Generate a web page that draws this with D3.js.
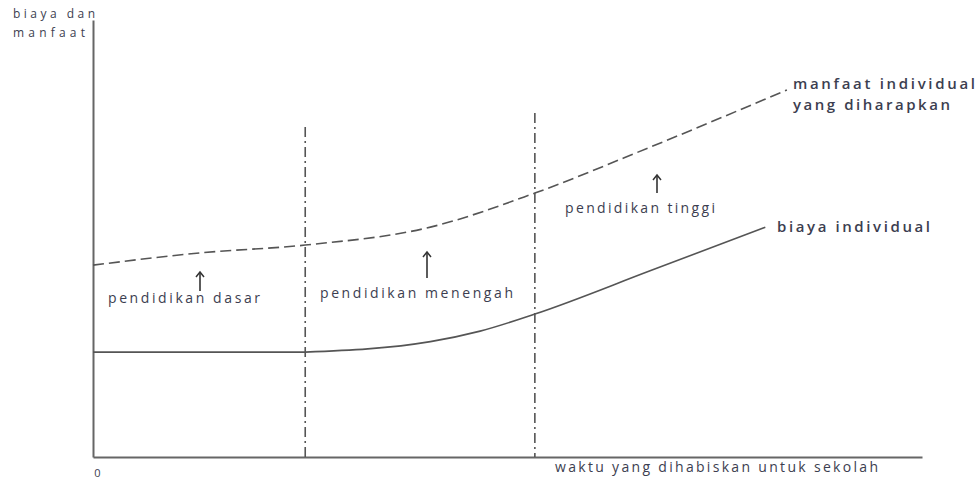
<!DOCTYPE html>
<html>
<head>
<meta charset="utf-8">
<script src="https://cdn.jsdelivr.net/npm/d3@7"></script>
<style>
  body { margin: 0; background: #fff; }
  text { font-family: "Open Sans", sans-serif; fill: #3c3e50; }
</style>
</head>
<body>
<div id="chart-area"></div>
<script>
// schematic values (time at school vs cost / benefit, arbitrary units 0-100)
const benefitX = [0, 12.9, 25.6, 40.7, 53.3, 67.2, 83.7]
const benefitY = [43.9, 46.7, 48.5, 52.6, 60.4, 70.9, 84.0]
const costX = [0, 25.6, 40.7, 46.7, 53.3, 67.2, 81.1]
const costY = [24, 24, 26.4, 28.8, 32.7, 42.6, 52.6]
const boundaries = [25.6, 53.3]
const boundaryTops = [75.5, 78.7]
const stageNames = ["pendidikan dasar", "pendidikan menengah", "pendidikan tinggi"]
const seriesNames = [["manfaat individual", "yang diharapkan"], ["biaya individual"]]
const yTitle = ["biaya dan", "manfaat"]
const xTitle = "waktu yang dihabiskan untuk sekolah"
const xTickLabels = ["0"]

const WIDTH = 976
const HEIGHT = 479

const svg = d3.select("#chart-area").append("svg")
  .attr("width", WIDTH)
  .attr("height", HEIGHT)

// scales
const x = d3.scaleLinear().domain([0, 100]).range([93, 922])
const y = d3.scaleLinear().domain([0, 100]).range([457, 20])

// axes
const xAxis = svg.append("g")
  .attr("transform", `translate(0, ${y(0)})`)
  .call(d3.axisBottom(x).tickValues([0]).tickSize(0).tickSizeOuter(0)
    .tickFormat((d, i) => xTickLabels[i]))
xAxis.select(".domain").attr("stroke", "#666").attr("stroke-width", 2)
xAxis.selectAll(".tick text")
  .attr("dy", 0).attr("y", 20).attr("x", 4)
  .style("font-size", "11px").style("font-family", "Open Sans")

const yAxis = svg.append("g")
  .attr("transform", `translate(${x(0)}, 0)`)
  .call(d3.axisLeft(y).tickValues([]).tickSizeOuter(0))
yAxis.select(".domain").attr("stroke", "#666").attr("stroke-width", 2)

// stage boundaries
svg.selectAll(".boundary")
  .data(boundaries)
  .enter().append("line")
  .attr("class", "boundary")
  .attr("x1", d => x(d)).attr("x2", d => x(d))
  .attr("y1", (d, i) => y(boundaryTops[i])).attr("y2", y(0))
  .attr("stroke", "#555")
  .attr("stroke-width", 1.6)
  .attr("stroke-dasharray", "10,4,2,4")

// line generators
const curve = d3.line()
  .x(d => x(d[0]))
  .y(d => y(d[1]))
  .curve(d3.curveMonotoneX)
const straight = d3.line()
  .x(d => x(d[0]))
  .y(d => y(d[1]))

const benefit = benefitX.map((v, i) => [v, benefitY[i]])
const cost = costX.map((v, i) => [v, costY[i]])

svg.append("path")
  .attr("fill", "none")
  .attr("stroke", "#555")
  .attr("stroke-width", 1.6)
  .attr("stroke-dasharray", "11,5")
  .attr("d", curve(benefit))

// cost: flat during basic school, then a rising curve (kink at the boundary)
svg.append("path")
  .attr("fill", "none")
  .attr("stroke", "#555")
  .attr("stroke-width", 1.6)
  .attr("d", straight(cost.slice(0, 2)) + curve(cost.slice(1)))

// stage labels and arrows (layout in pixels)
const stageLayout = [
  { tx: 108, ty: 303, len: 152, ax: 200, a1: 272, a2: 291 },
  { tx: 320, ty: 298, len: 193, ax: 427, a1: 252, a2: 278 },
  { tx: 565, ty: 213, len: 150, ax: 657, a1: 175, a2: 193 }
]

stageNames.forEach((name, i) => {
  const L = stageLayout[i]
  svg.append("text")
    .attr("x", L.tx).attr("y", L.ty)
    .attr("textLength", L.len).attr("lengthAdjust", "spacing")
    .style("font-size", "14px")
    .text(name)
  svg.append("line")
    .attr("x1", L.ax).attr("x2", L.ax)
    .attr("y1", L.a2).attr("y2", L.a1 + 1)
    .attr("stroke", "#333").attr("stroke-width", 1.6)
  svg.append("path")
    .attr("d", `M${L.ax - 4},${L.a1 + 5} L${L.ax},${L.a1} L${L.ax + 4},${L.a1 + 5}`)
    .attr("fill", "none")
    .attr("stroke", "#333").attr("stroke-width", 1.5)
})

// series labels
svg.append("text").attr("x", 793).attr("y", 89)
  .attr("textLength", 182).attr("lengthAdjust", "spacing")
  .style("font-size", "15px").style("font-weight", 600)
  .text(seriesNames[0][0])
svg.append("text").attr("x", 793).attr("y", 110)
  .attr("textLength", 157).attr("lengthAdjust", "spacing")
  .style("font-size", "15px").style("font-weight", 600)
  .text(seriesNames[0][1])
svg.append("text").attr("x", 777).attr("y", 232)
  .attr("textLength", 153).attr("lengthAdjust", "spacing")
  .style("font-size", "15px").style("font-weight", 600)
  .text(seriesNames[1][0])

// axis titles
svg.append("text").attr("x", 13).attr("y", 18)
  .attr("textLength", 82).attr("lengthAdjust", "spacing")
  .style("font-size", "12px")
  .text(yTitle[0])
svg.append("text").attr("x", 13).attr("y", 37)
  .attr("textLength", 72).attr("lengthAdjust", "spacing")
  .style("font-size", "12px")
  .text(yTitle[1])
svg.append("text").attr("x", 555).attr("y", 472)
  .attr("textLength", 323).attr("lengthAdjust", "spacing")
  .style("font-size", "14px")
  .text(xTitle)
</script>
</body>
</html>
